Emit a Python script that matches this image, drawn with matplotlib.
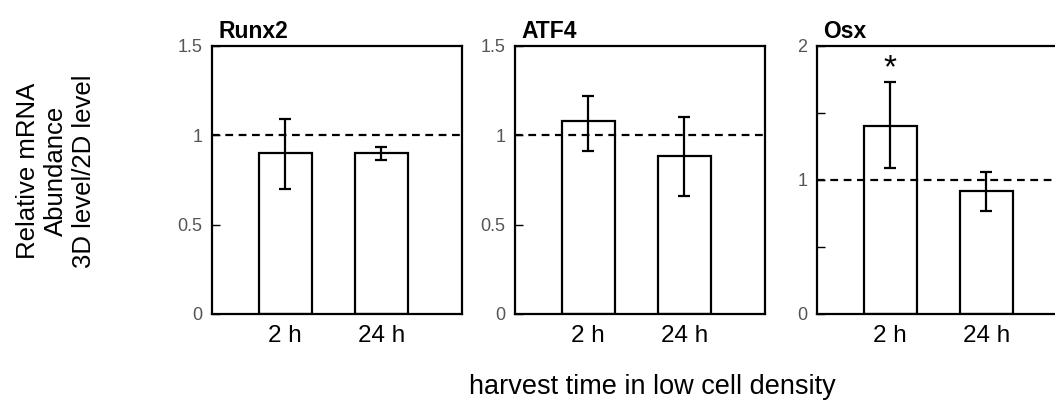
import matplotlib
matplotlib.use('Agg')
import matplotlib.pyplot as plt
import numpy as np

plt.rcParams['font.family'] = ['Liberation Sans', 'DejaVu Sans']

genes = ['Runx2', 'ATF4', 'Osx']
times = ['2 h', '24 h']
means = [[0.90, 0.90], [1.08, 0.885], [1.40, 0.92]]
err_lo = [[0.70, 0.86], [0.91, 0.66], [1.09, 0.77]]
err_hi = [[1.09, 0.935], [1.22, 1.10], [1.73, 1.06]]
ymax = [1.5, 1.5, 2]
yticks = [[0, 0.5, 1, 1.5], [0, 0.5, 1, 1.5], [0, 0.5, 1, 1.5, 2]]
yticklabels = [['0', '0.5', '1', '1.5'], ['0', '0.5', '1', '1.5'], ['0', '', '1', '', '2']]
stars = [[None, None], [None, None], ['*', None]]

fig = plt.figure(figsize=(10.55, 4.01), dpi=100)
lefts = [212, 515, 817]
W, H = 1055, 401
lw = 1.6

x = np.arange(len(times))
for i, g in enumerate(genes):
    ax = fig.add_axes([lefts[i] / W, (H - 314) / H, 250 / W, 268 / H])
    m = np.array(means[i])
    lo = m - np.array(err_lo[i])
    hi = np.array(err_hi[i]) - m
    ax.bar(x, m, width=0.55, color='white', edgecolor='black', linewidth=lw, zorder=2)
    ax.errorbar(x, m, yerr=[lo, hi], fmt='none', ecolor='black', elinewidth=lw,
                capsize=4, capthick=lw, zorder=4)
    ax.axhline(1, color='black', linestyle=(0, (3.5, 2.5)), linewidth=lw, zorder=3)
    for j, s in enumerate(stars[i]):
        if s:
            ax.text(x[j], err_hi[i][j] + 0.1, s, ha='center', va='center',
                    fontsize=24)
    ax.set_xlim(-0.76, 1.84)
    ax.set_ylim(0, ymax[i])
    ax.set_yticks(yticks[i])
    ax.set_yticklabels(yticklabels[i], color='#555555', fontsize=13)
    ax.tick_params(axis='y', direction='in', length=6, width=1, pad=7)
    ax.set_xticks(x)
    ax.set_xticklabels(times, fontsize=17.5)
    ax.tick_params(axis='x', length=0, pad=8)
    for sp in ax.spines.values():
        sp.set_linewidth(lw)
    ax.text(0.025, 1.012, g, transform=ax.transAxes, ha='left', va='bottom',
            fontsize=16.5, fontweight='bold')

fig.text(0.053, 0.573, 'Relative mRNA\nAbundance\n3D level/2D level', rotation=90,
         ha='center', va='center', fontsize=18.5, linespacing=1.2)
fig.text(0.618, 0.036, 'harvest time in low cell density', ha='center', va='center',
         fontsize=19.5)

fig.savefig('out.png', dpi=100)
